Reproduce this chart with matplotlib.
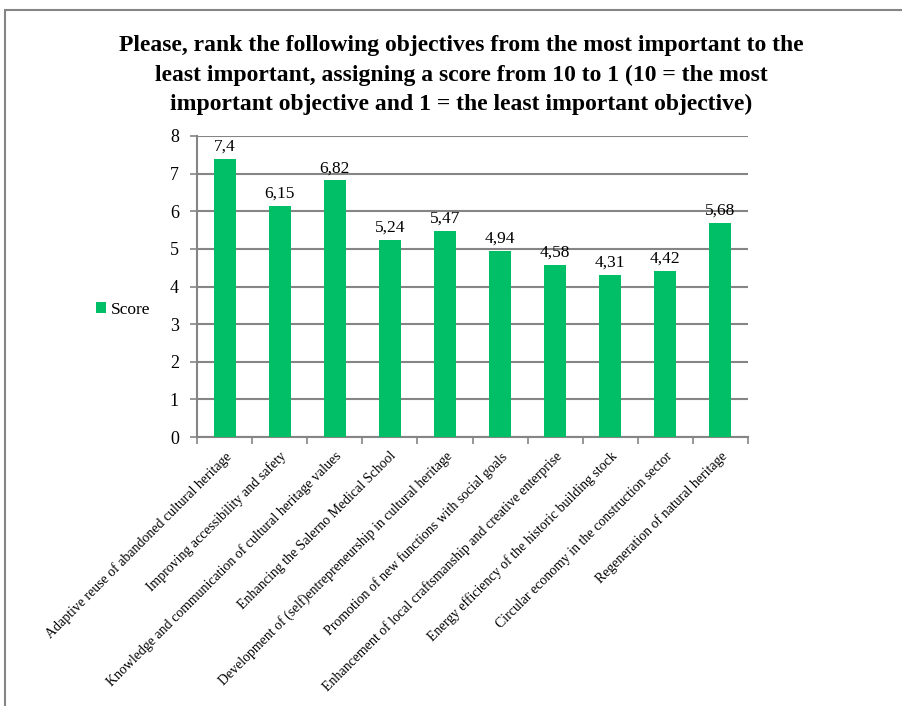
import numpy as np
import matplotlib.pyplot as plt
from matplotlib.patches import Rectangle

objectives = [
    "Adaptive reuse of abandoned cultural heritage",
    "Improving accessibility and safety",
    "Knowledge and communication of cultural heritage values",
    "Enhancing the Salerno Medical School",
    "Development of (self)entrepreneurship in cultural heritage",
    "Promotion of new functions with social goals",
    "Enhancement of local craftsmanship and creative enterprise",
    "Energy efficiency of the historic building stock",
    "Circular economy in the construction sector",
    "Regeneration of natural heritage",
]
scores = [7.4, 6.15, 6.82, 5.24, 5.47, 4.94, 4.58, 4.31, 4.42, 5.68]
score_labels = ["7,4", "6,15", "6,82", "5,24", "5,47", "4,94", "4,58", "4,31", "4,42", "5,68"]

plt.rcParams['font.family'] = ['Liberation Serif', 'DejaVu Serif']

green = '#00BF66'
gray = '#858585'

fig = plt.figure(figsize=(9.02, 7.06), dpi=100)
ax = fig.add_axes([197/902, 1 - 437/706, (748 - 197)/902, (437 - 136)/706])

x = np.arange(len(scores))
bars = ax.bar(x, scores, width=0.4, color=green, label='Score', zorder=3)

for xi, s, lab in zip(x, scores, score_labels):
    ax.annotate(lab, (xi, s), xytext=(0, 3), textcoords='offset points',
                ha='center', va='bottom', fontsize=12.5)

ax.set_xlim(-0.5, len(scores) - 0.5)
ax.set_ylim(0, 8)
ax.set_yticks(range(0, 9))
ax.tick_params(axis='y', labelsize=13, length=5, color=gray, width=1.2, pad=8)
ax.yaxis.grid(True, color=gray, linewidth=1.5, zorder=0)

# labels sit under the bars, tick marks between categories
ax.set_xticks(x)
ax.set_xticklabels(objectives, rotation=45, ha='right', rotation_mode='anchor', fontsize=10)
ax.set_xticks(np.arange(-0.5, len(scores)), minor=True)
ax.tick_params(axis='x', which='major', length=0, pad=9)
ax.tick_params(axis='x', which='minor', length=5, color=gray, width=1.2)

for side in ['top', 'right']:
    ax.spines[side].set_visible(False)
for side in ['left', 'bottom']:
    ax.spines[side].set_color(gray)
    ax.spines[side].set_linewidth(1.5)

fig.text(461/902, 1 - 75/706,
         "Please, rank the following objectives from the most important to the\n"
         "least important, assigning a score from 10 to 1 (10 = the most\n"
         "important objective and 1 = the least important objective)",
         ha='center', va='center', fontsize=17, fontweight='bold', linespacing=1.5)

fig.legend(handles=[bars], labels=['Score'], loc='center left',
           bbox_to_anchor=(80/902, 1 - 310/706), frameon=False, fontsize=12.5,
           handlelength=0.6, handleheight=0.6, handletextpad=0.3)

fig.patches.append(Rectangle((5/902, -0.1), 1.2, 1 - 10/706 + 0.1,
                             transform=fig.transFigure, fill=False,
                             edgecolor=gray, linewidth=1.5))

fig.savefig('out.png', dpi=100)
